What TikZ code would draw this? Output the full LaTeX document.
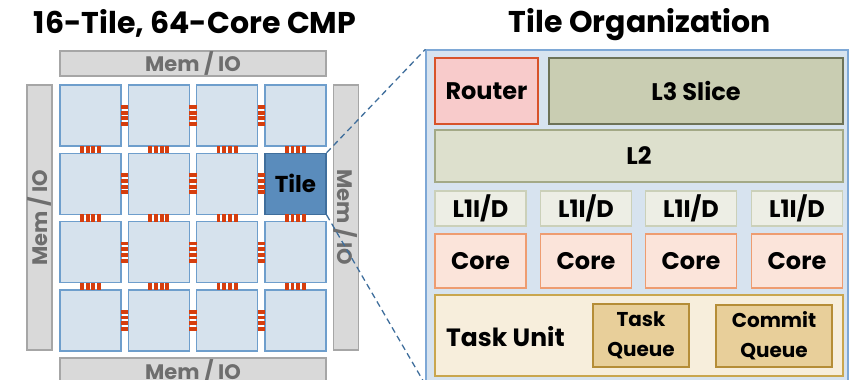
\documentclass[tikz,border=0pt]{standalone}
\usepackage{fontspec}
\setmainfont{Poppins}
\usepackage{tikz}
\usetikzlibrary{calc, positioning}
\definecolor{tilefill}{HTML}{D6E2ED}
\definecolor{tileline}{HTML}{6E9ECC}
\definecolor{hotfill}{HTML}{5A8CBC}
\definecolor{hotline}{HTML}{3F6E9C}
\definecolor{iofill}{HTML}{D9D9D9}
\definecolor{ioline}{HTML}{A6A6A6}
\definecolor{iotext}{HTML}{6E6E6E}
\definecolor{linkred}{HTML}{D63E0E}
\definecolor{orgfill}{HTML}{D7E3EF}
\definecolor{orgline}{HTML}{7EA8D6}
\definecolor{rtfill}{HTML}{F8CBCB}
\definecolor{rtline}{HTML}{D8532A}
\definecolor{lthreefill}{HTML}{C9CDB2}
\definecolor{lthreeline}{HTML}{6D7257}
\definecolor{ltwofill}{HTML}{DDE0CD}
\definecolor{ltwoline}{HTML}{A3A986}
\definecolor{lonefill}{HTML}{EDEEE5}
\definecolor{loneline}{HTML}{CBD0B9}
\definecolor{corefill}{HTML}{FBE4DA}
\definecolor{coreline}{HTML}{EE9C70}
\definecolor{unitfill}{HTML}{F7EEDC}
\definecolor{unitline}{HTML}{C9A64E}
\definecolor{queuefill}{HTML}{E8CF9A}
\definecolor{queueline}{HTML}{B58D37}
\tikzset{
  box/.style={draw, line width=1.3pt, inner sep=0pt, align=center,
    font=\bfseries\fontsize{24}{24}\selectfont},
  tile/.style={box, draw=tileline, fill=tilefill, minimum width=61pt, minimum height=61pt},
  hottile/.style={tile, draw=hotline, fill=hotfill, font=\bfseries\fontsize{23}{23}\selectfont},
  iobar/.style={box, draw=ioline, fill=iofill, text=iotext,
    font=\bfseries\fontsize{21}{21}\selectfont},
  headline/.style={font=\bfseries\fontsize{30}{30}\selectfont},
  zoomline/.style={draw=hotline, dashed, dash pattern=on 6pt off 4pt, line width=1.3pt},
}

\begin{document}
\begin{tikzpicture}[x=1pt,y=-1pt]
    \useasboundingbox (0,0) rectangle (851,380);
    \clip (0,0) rectangle (851,380);
    % titles
    \node[headline] (cmptitle) at (195,23) {16-Tile, 64-Core CMP};
    \node[headline] (orgtitle) at (640,25) {Tile Organization};
    % memory / io ring
    \node[iobar, minimum width=266pt, minimum height=25pt] (iotop) at (193,63.5) {Mem / IO};
    \node[iobar, minimum width=265pt, minimum height=25pt, rotate=90] (ioleft) at (39.5,217.5) {Mem / IO};
    \node[iobar, minimum width=265pt, minimum height=25pt, rotate=-90] (ioright) at (346,217.5) {Mem / IO};
    \node[iobar, minimum width=266pt, minimum height=26pt] (iobottom) at (193,371) {Mem / IO};
    % tiles
    \foreach \r in {1,...,4}
      \foreach \c in {1,...,4}
        \node[tile] (t\r\c) at ({90.5+(\c-1)*68.33},{115.5+(\r-1)*68.33}) {};
    \node[hottile] (t24) at (t24) {Tile};
    % links inside a row
    \foreach \r in {1,...,4}
      \foreach \c/\d in {1/2,2/3,3/4} {
        \coordinate (m) at ($(t\r\c.east)!0.5!(t\r\d.west)$);
        \foreach \k in {0,...,3}
          \fill[linkred] ($(m)+(-3.6,{-10.5+\k*5.7})$) rectangle ++(7.2,3.8);
      }
    % links between rows
    \foreach \r/\s in {1/2,2/3,3/4}
      \foreach \c in {1,...,4} {
        \coordinate (m) at ($(t\r\c.south)!0.5!(t\s\c.north)$);
        \foreach \k in {0,...,3}
          \fill[linkred] ($(m)+({-10.5+\k*5.7},-3.6)$) rectangle ++(3.8,7.2);
      }
    % tile organization
    \node[box, draw=orgline, fill=orgfill, minimum width=422pt, minimum height=334pt] (org) at (637,217) {};
    \node[box, draw=rtline, fill=rtfill, minimum width=103pt, minimum height=66pt] (router) at (486.5,91) {Router};
    \node[box, draw=lthreeline, fill=lthreefill, minimum width=294pt, minimum height=66pt] (lthree) at (696,91) {L3 Slice};
    \node[box, draw=ltwoline, fill=ltwofill, minimum width=408pt, minimum height=52pt] (ltwo) at (639,156) {L2};
    \foreach \i/\x in {1/480.5,2/586,3/691,4/797} {
      \node[box, draw=loneline, fill=lonefill, minimum width=91pt, minimum height=35pt] (lone\i) at (\x,208.5) {L1I/D};
      \node[box, draw=coreline, fill=corefill, minimum width=91pt, minimum height=54pt] (core\i) at (\x,261) {Core};
    }
    \node[box, draw=unitline, fill=unitfill, minimum width=408pt, minimum height=81pt] (unit) at (639,335.5) {};
    \node[font=\bfseries\fontsize{25}{25}\selectfont, anchor=west, inner sep=0pt] (unitname) at (446,337) {Task Unit};
    \node[box, draw=queueline, fill=queuefill, minimum width=96pt, minimum height=63pt,
      font=\bfseries\fontsize{20}{30}\selectfont] (taskq) at (641,335.5) {Task\\Queue};
    \node[box, draw=queueline, fill=queuefill, minimum width=116pt, minimum height=62pt,
      font=\bfseries\fontsize{20}{30}\selectfont] (commitq) at (774,336) {Commit\\Queue};
    % zoom lines
    \draw[zoomline] (t24.north east) -- (org.north west);
    \draw[zoomline] (t24.south east) -- (org.south west);
\end{tikzpicture}
\end{document}
